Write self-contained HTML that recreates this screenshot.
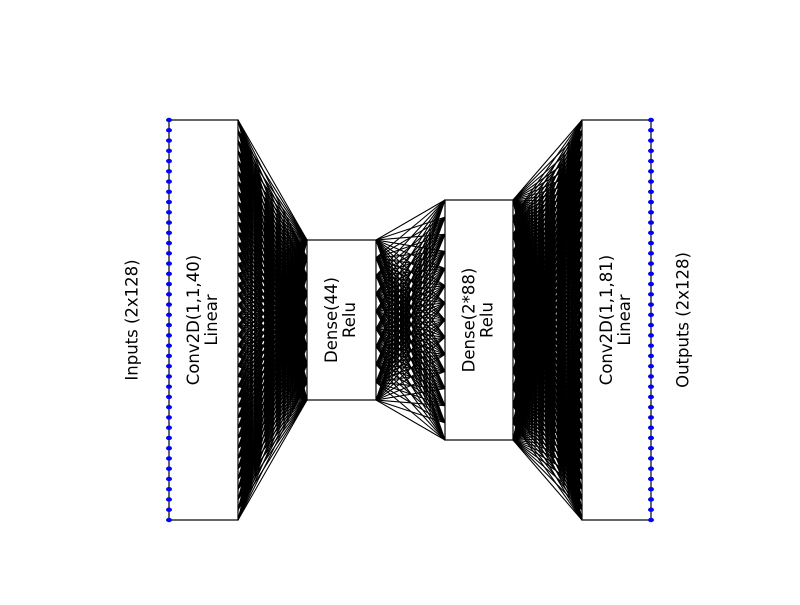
<!DOCTYPE html>
<html><head><meta charset="utf-8"><style>
body{margin:0;background:#fff}
svg text{font-family:"DejaVu Sans","Liberation Sans",sans-serif;font-size:16.5px;fill:#000}
</style></head><body>
<svg id="c" width="800" height="600">
<g id="edges"></g>
<g id="boxes"></g>
<g id="dots"></g>
<g id="labels"></g>
</svg>
<script>
const layerNames=["conv2d-in","dense-44","dense-2x88","conv2d-out"];
const layerX0=[169,307,445,582];
const layerX1=[238,376,513,651];
const layerTop=[120,240,200,120];
const layerBot=[520,400,440,520];
const nodeCounts=[40,10,15,40];
const labelLines=[["Conv2D(1,1,40)","Linear"],["Dense(44)","Relu"],["Dense(2*88)","Relu"],["Conv2D(1,1,81)","Linear"]];
const NS="http://www.w3.org/2000/svg";
function mk(t,a,p){const e=document.createElementNS(NS,t);for(const k in a)e.setAttribute(k,a[k]);p.appendChild(e);return e;}
function ys(i){const n=nodeCounts[i],r=[];for(let k=0;k<n;k++)r.push(layerTop[i]+(layerBot[i]-layerTop[i])*k/(n-1));return r;}
const E=document.getElementById('edges'),B=document.getElementById('boxes'),D=document.getElementById('dots'),L=document.getElementById('labels');
for(let i=0;i<3;i++){const a=ys(i),b=ys(i+1);
 for(const y1 of a)for(const y2 of b){const l=mk('line',{x1:layerX1[i],y1:y1,x2:layerX0[i+1],y2:y2,stroke:'#000','stroke-width':1.1},E);
  
  }}
for(let i=0;i<4;i++){const r=mk('rect',{x:layerX0[i],y:layerTop[i],width:layerX1[i]-layerX0[i],height:layerBot[i]-layerTop[i],fill:'#fff',stroke:'#000','stroke-width':1.2},B);
 
 
 const cx=(layerX0[i]+layerX1[i])/2,cy=(layerTop[i]+layerBot[i])/2;
 labelLines[i].forEach((s,j)=>{const t=mk('text',{x:0,y:0,'text-anchor':'middle','dominant-baseline':'middle',transform:`translate(${cx-9+j*18},${cy}) rotate(-90)`},L);t.textContent=s;
  
  });}
[[169,'input'],[651,'output']].forEach(([x,nm])=>{ys(0).forEach(y=>{const c=mk('ellipse',{cx:x,cy:y,rx:3,ry:2.2,fill:'#0000ff'},D);
 
 });});
[[133,'Inputs (2x128)','inputs-label'],[684,'Outputs (2x128)','outputs-label']].forEach(([x,s,nm])=>{const t=mk('text',{x:0,y:0,'text-anchor':'middle','dominant-baseline':'middle',transform:`translate(${x},320) rotate(-90)`},L);t.textContent=s;
 
 });
</script>
</body></html>
